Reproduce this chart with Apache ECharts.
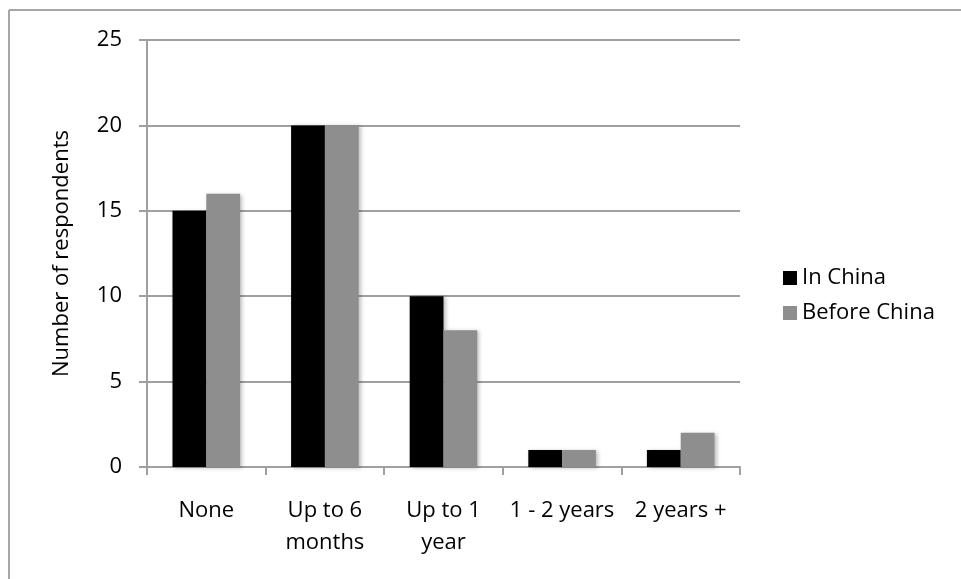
<!DOCTYPE html>
<html>
<head>
<meta charset="utf-8">
<script src="https://cdn.jsdelivr.net/npm/echarts@6/dist/echarts.min.js"></script>
<style>
  html, body { margin: 0; padding: 0; background: #ffffff; }
  #chart { width: 961px; height: 579px; }
</style>
</head>
<body>
<div id="chart"></div>
<script>
// Time spent learning, grouped by duration
const categories = ['None', 'Up to 6\nmonths', 'Up to 1\nyear', '1 - 2 years', '2 years +'];
const inChina = [15, 20, 10, 1, 1];
const beforeChina = [16, 20, 8, 1, 2];
const yTicks = [0, 5, 10, 15, 20, 25];

const FONT = '"Open Sans", "Noto Sans", sans-serif';
const FONT_SIZE = 22;
const AXIS_GRAY = '#a0a0a0';

const chart = echarts.init(document.getElementById('chart'), null, { renderer: 'canvas' });

const barShadow = {
  shadowColor: 'rgba(0,0,0,0.25)',
  shadowBlur: 4,
  shadowOffsetX: 2,
  shadowOffsetY: 1
};

chart.setOption({
  animation: false,
  backgroundColor: '#ffffff',
  graphic: [
    { type: 'line', shape: { x1: 9, y1: 10, x2: 961, y2: 10 }, style: { stroke: '#a6a6a6', lineWidth: 2 } },
    { type: 'line', shape: { x1: 9, y1: 10, x2: 9, y2: 579 }, style: { stroke: '#a6a6a6', lineWidth: 2 } }
  ],
  grid: { left: 147, right: 221, top: 40, bottom: 112, containLabel: false },
  legend: {
    orient: 'vertical',
    left: 778,
    top: 262,
    itemWidth: 14,
    itemHeight: 14,
    itemGap: 13,
    icon: 'rect',
    textStyle: { fontFamily: FONT, fontSize: FONT_SIZE, color: '#000' },
    data: ['In China', 'Before China']
  },
  xAxis: {
    type: 'category',
    data: categories,
    axisLine: { lineStyle: { color: AXIS_GRAY, width: 2 } },
    axisTick: { show: true, length: 8, alignWithLabel: false, lineStyle: { color: AXIS_GRAY, width: 2 } },
    axisLabel: { fontFamily: FONT, fontSize: FONT_SIZE, color: '#000', margin: 28, lineHeight: 32, interval: 0 },
    splitLine: { show: false }
  },
  yAxis: {
    type: 'value',
    min: yTicks[0],
    max: yTicks[yTicks.length - 1],
    interval: 5,
    name: 'Number of respondents',
    nameLocation: 'middle',
    nameGap: 74,
    nameRotate: 90,
    nameTextStyle: { fontFamily: FONT, fontSize: FONT_SIZE, color: '#000' },
    axisLine: { show: true, lineStyle: { color: AXIS_GRAY, width: 2 } },
    axisTick: { show: true, length: 8, inside: false, lineStyle: { color: AXIS_GRAY, width: 2 } },
    axisLabel: { fontFamily: FONT, fontSize: FONT_SIZE, color: '#000', margin: 25 },
    splitLine: { show: true, lineStyle: { color: AXIS_GRAY, width: 2 } }
  },
  series: [
    {
      name: 'In China',
      type: 'bar',
      data: inChina,
      barGap: '0%',
      barCategoryGap: '43%',
      itemStyle: Object.assign({ color: '#000000' }, barShadow)
    },
    {
      name: 'Before China',
      type: 'bar',
      data: beforeChina,
      barGap: '0%',
      barCategoryGap: '43%',
      itemStyle: Object.assign({ color: '#8e8e8e' }, barShadow)
    }
  ]
});
</script>
</body>
</html>
